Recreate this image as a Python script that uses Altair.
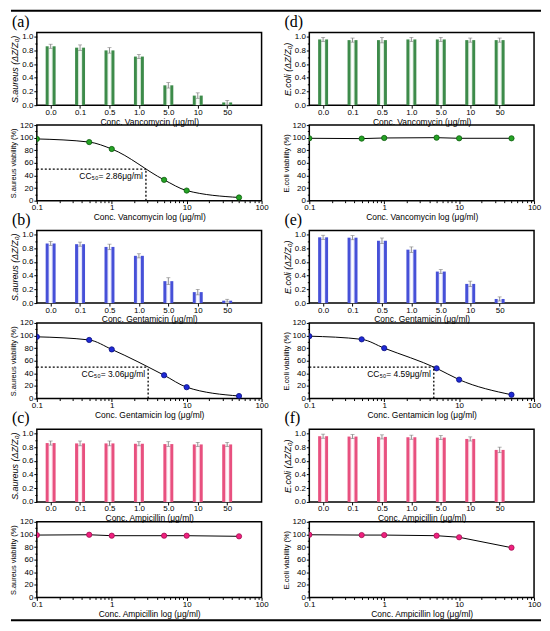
import altair as alt
import pandas as pd

# ---------------- data ----------------
conc_labels = ["0.0", "0.1", "0.5", "1.0", "5.0", "10", "50"]
conc_idx = [0, 1, 2, 3, 4, 5, 6]
conc_log = [0.1, 0.5, 1, 5, 10, 50]

# (a) S.aureus - Vancomycin
a_bar = [0.86, 0.84, 0.80, 0.71, 0.29, 0.14, 0.04]
a_err = [0.03, 0.04, 0.04, 0.03, 0.04, 0.04, 0.03]
a_via = [98, 93, 82, 33, 16, 5]
a_cc50 = 2.86
# (d) E.coli - Vancomycin
d_bar = [0.96, 0.95, 0.95, 0.96, 0.96, 0.95, 0.95]
d_err = [0.03, 0.03, 0.04, 0.03, 0.03, 0.03, 0.03]
d_via = [99, 98.5, 99.5, 100, 99, 99]
# (b) S.aureus - Gentamicin
b_bar = [0.87, 0.86, 0.82, 0.69, 0.32, 0.16, 0.035]
b_err = [0.03, 0.03, 0.04, 0.03, 0.05, 0.04, 0.02]
b_via = [98, 93, 78, 37, 18, 4]
b_cc50 = 3.06
# (e) E.coli - Gentamicin
e_bar = [0.96, 0.955, 0.91, 0.78, 0.46, 0.28, 0.06]
e_err = [0.03, 0.03, 0.04, 0.04, 0.03, 0.04, 0.03]
e_via = [99, 94, 80, 48, 30, 6]
e_cc50 = 4.59
# (c) S.aureus - Ampicillin
c_bar = [0.86, 0.855, 0.855, 0.85, 0.845, 0.84, 0.84]
c_err = [0.03, 0.035, 0.035, 0.03, 0.035, 0.03, 0.03]
c_via = [99, 99.5, 98, 98, 98, 97]
# (f) E.coli - Ampicillin
f_bar = [0.96, 0.955, 0.95, 0.945, 0.94, 0.92, 0.76]
f_err = [0.03, 0.03, 0.03, 0.03, 0.03, 0.03, 0.04]
f_via = [99.5, 99, 99, 98, 95.5, 79]

green = ("#3d8b4a", "#e9f3ea", "#25a325", "#0d5c0d")
blue = ("#4650d8", "#e8e9fb", "#1f2ad6", "#0b1180")
pink = ("#e8507f", "#fde6ee", "#f0207f", "#a0104f")

W = 226
HB = 73
HL = 76
FONT = "Liberation Sans"

bar_y_major = [0, 0.2, 0.4, 0.6, 0.8, 1.0]
bar_y_minor = [0.1, 0.3, 0.5, 0.7, 0.9]
line_y_major = [0, 20, 40, 60, 80, 100, 120]
line_y_minor = [10, 30, 50, 70, 90, 110]
line_x_major = [0.1, 1, 10, 100]
line_x_minor = [0.2, 0.3, 0.4, 0.5, 0.6, 0.7, 0.8, 0.9,
                2, 3, 4, 5, 6, 7, 8, 9, 20, 30, 40, 50, 60, 70, 80, 90]

label_expr = "[" + ",".join("'%s'" % s for s in conc_labels) + "][datum.value]"


def bar_chart(vals, errs, colors, ytitle, xtitle):
    col, light = colors[0], colors[1]
    df = pd.DataFrame({
        "i": conc_idx,
        "v": vals,
        "lo": [v - e for v, e in zip(vals, errs)],
        "hi": [v + e for v, e in zip(vals, errs)],
    })
    xs = alt.Scale(domain=[-0.3, 7.0], nice=False, zero=False)
    ys = alt.Scale(domain=[0, 1.06], nice=False)
    xax = alt.Axis(values=conc_idx, labelExpr=label_expr, title=xtitle,
                   tickSize=3, labelPadding=0, titlePadding=1, orient="bottom")
    yax = alt.Axis(values=bar_y_major, format=".1f", title=ytitle,
                   titleFontStyle="italic", titleFontSize=9, tickSize=3,
                   labelPadding=1, titlePadding=2, orient="left")
    grad = alt.Gradient(
        gradient="linear", x1=0, x2=1, y1=0, y2=0,
        stops=[alt.GradientStop(color=col, offset=0),
               alt.GradientStop(color=col, offset=0.24),
               alt.GradientStop(color=light, offset=0.36),
               alt.GradientStop(color="white", offset=0.5),
               alt.GradientStop(color=light, offset=0.64),
               alt.GradientStop(color=col, offset=0.76),
               alt.GradientStop(color=col, offset=1)])
    bars = alt.Chart(df).mark_bar(size=10, fill=grad).encode(
        x=alt.X("i:Q", scale=xs, axis=xax),
        y=alt.Y("v:Q", scale=ys, axis=yax))
    err = alt.Chart(df).mark_rule(color="#777", strokeWidth=0.8).encode(
        x=alt.X("i:Q", scale=xs, axis=None),
        y=alt.Y("lo:Q", scale=ys, axis=None), y2="hi:Q")
    cap_hi = alt.Chart(df).mark_tick(color="#777", size=4, thickness=0.8,
                                     orient="horizontal").encode(
        x=alt.X("i:Q", scale=xs, axis=None),
        y=alt.Y("hi:Q", scale=ys, axis=None))
    cap_lo = alt.Chart(df).mark_tick(color="#777", size=4, thickness=0.8,
                                     orient="horizontal").encode(
        x=alt.X("i:Q", scale=xs, axis=None),
        y=alt.Y("lo:Q", scale=ys, axis=None))
    minor = alt.Chart(df).mark_point(opacity=0).encode(
        x=alt.X("i:Q", scale=xs, axis=None),
        y=alt.Y("v:Q", scale=ys,
                axis=alt.Axis(values=bar_y_minor, labels=False, tickSize=2,
                              title=None, orient="left", domain=False)))
    return alt.layer(bars, err, cap_hi, cap_lo, minor).resolve_axis(
        x="independent", y="independent").properties(width=W, height=HB)


def line_chart(vals, colors, ytitle, xtitle, interp, cc50=None):
    pcol, pstroke = colors[2], colors[3]
    df = pd.DataFrame({"c": conc_log, "v": vals})
    xs = alt.Scale(type="log", domain=[0.1, 100], nice=False)
    ys = alt.Scale(domain=[0, 120], nice=False)
    xax = alt.Axis(values=line_x_major, format="~g", title=xtitle, tickSize=3,
                   labelPadding=0, titlePadding=1, orient="bottom")
    yax = alt.Axis(values=line_y_major, title=ytitle, titleFontSize=7.5,
                   tickSize=3, labelPadding=1, titlePadding=2, orient="left")
    line = alt.Chart(df).mark_line(color="black", strokeWidth=1,
                                   interpolate=interp, clip=True).encode(
        x=alt.X("c:Q", scale=xs, axis=xax),
        y=alt.Y("v:Q", scale=ys, axis=yax))
    pts = alt.Chart(df).mark_point(shape="circle", filled=True, fill=pcol,
                                   stroke=pstroke, strokeWidth=0.8, opacity=1,
                                   size=28, clip=True).encode(
        x=alt.X("c:Q", scale=xs, axis=None),
        y=alt.Y("v:Q", scale=ys, axis=None))
    minor = alt.Chart(df).mark_point(opacity=0).encode(
        x=alt.X("c:Q", scale=xs,
                axis=alt.Axis(values=line_x_minor, labels=False, tickSize=2,
                              title=None, orient="bottom", domain=False)),
        y=alt.Y("v:Q", scale=ys,
                axis=alt.Axis(values=line_y_minor, labels=False, tickSize=2,
                              title=None, orient="left", domain=False)))
    layers = [line, pts, minor]
    if cc50 is not None:
        cdf = pd.DataFrame({"x0": [0.1], "x1": [cc50], "y": [50], "y0": [0],
                            "t": ["CC\u2085\u2080= %.2f\u03bcg/ml" % cc50]})
        hr = alt.Chart(cdf).mark_rule(strokeDash=[2, 2], strokeWidth=1.3,
                                      color="black").encode(
            x=alt.X("x0:Q", scale=xs, axis=None), x2="x1:Q",
            y=alt.Y("y:Q", scale=ys, axis=None))
        vr = alt.Chart(cdf).mark_rule(strokeDash=[2, 2], strokeWidth=1.3,
                                      color="black").encode(
            x=alt.X("x1:Q", scale=xs, axis=None),
            y=alt.Y("y0:Q", scale=ys, axis=None), y2="y:Q")
        tx = alt.Chart(cdf).mark_text(align="right", baseline="middle", dx=-3,
                                      dy=7, fontSize=8.5, font=FONT,
                                      color="black").encode(
            x=alt.X("x1:Q", scale=xs, axis=None),
            y=alt.Y("y:Q", scale=ys, axis=None),
            text="t:N")
        layers += [hr, vr, tx]
    return alt.layer(*layers).resolve_axis(
        x="independent", y="independent").properties(width=W, height=HL)


def spacer(h, label="", rule_y=None):
    t = alt.Chart(pd.DataFrame({"t": [label]})).mark_text(
        font="Liberation Serif", fontSize=16, align="left", baseline="middle",
        color="black").encode(text="t:N", x=alt.value(-25),
                              y=alt.value(h - 11))
    layers = [t]
    if rule_y is not None:
        r = alt.Chart(pd.DataFrame({"t": [label]})).mark_rule(
            color="black", strokeWidth=2).encode(
            x=alt.value(-26), x2=alt.value(507), y=alt.value(rule_y))
        layers.append(r)
    return alt.layer(*layers).properties(
        width=W, height=h,
        view=alt.ViewBackground(stroke="transparent", strokeWidth=0))


sa_bar = "S.aureus (\u0394Z/Z\u2080)"
ec_bar = "E.coli (\u0394Z/Z\u2080)"
sa_via = "S.aureus viability  (%)"
ec_via = "E.coli viability  (%)"

cells = [
    spacer(22, "(a)", rule_y=0), spacer(22, "(d)"),
    bar_chart(a_bar, a_err, green, sa_bar, "Conc. Vancomycin (\u03bcg/ml)"),
    bar_chart(d_bar, d_err, green, ec_bar, "Conc. Vancomycin (\u03bcg/ml)"),
    spacer(20), spacer(20),
    line_chart(a_via, green, sa_via, "Conc. Vancomycin log (\u03bcg/ml)", "monotone", a_cc50),
    line_chart(d_via, green, ec_via, "Conc. Vancomycin log (\u03bcg/ml)", "linear"),
    spacer(30, "(b)"), spacer(30, "(e)"),
    bar_chart(b_bar, b_err, blue, sa_bar, "Conc. Gentamicin (\u03bcg/ml)"),
    bar_chart(e_bar, e_err, blue, ec_bar, "Conc. Gentamicin (\u03bcg/ml)"),
    spacer(20), spacer(20),
    line_chart(b_via, blue, sa_via, "Conc. Gentamicin log (\u03bcg/ml)", "monotone", b_cc50),
    line_chart(e_via, blue, ec_via, "Conc. Gentamicin log (\u03bcg/ml)", "monotone", e_cc50),
    spacer(31, "(c)"), spacer(31, "(f)"),
    bar_chart(c_bar, c_err, pink, sa_bar, "Conc. Ampicillin (\u03bcg/ml)"),
    bar_chart(f_bar, f_err, pink, ec_bar, "Conc. Ampicillin (\u03bcg/ml)"),
    spacer(20), spacer(20),
    line_chart(c_via, pink, sa_via, "Conc. Ampicillin log (\u03bcg/ml)", "linear"),
    line_chart(f_via, pink, ec_via, "Conc. Ampicillin log (\u03bcg/ml)", "linear"),
    spacer(23, rule_y=23), spacer(23),
]

chart = alt.concat(*cells, columns=2, spacing={"row": 0, "column": 48},
                   bounds="flush").properties(
    padding={"left": 0, "top": 0, "right": 0, "bottom": 0}
).configure_axis(
    labelFont=FONT, titleFont=FONT, labelFontSize=8, titleFontSize=8.5,
    labelColor="black", titleColor="black", tickColor="black",
    tickWidth=1, domain=False, grid=False, titleFontWeight="normal",
    labelFlush=False
).configure_view(stroke="black", strokeWidth=1.5)

chart.save("out.html", embed_options={"renderer": "svg", "actions": False})
